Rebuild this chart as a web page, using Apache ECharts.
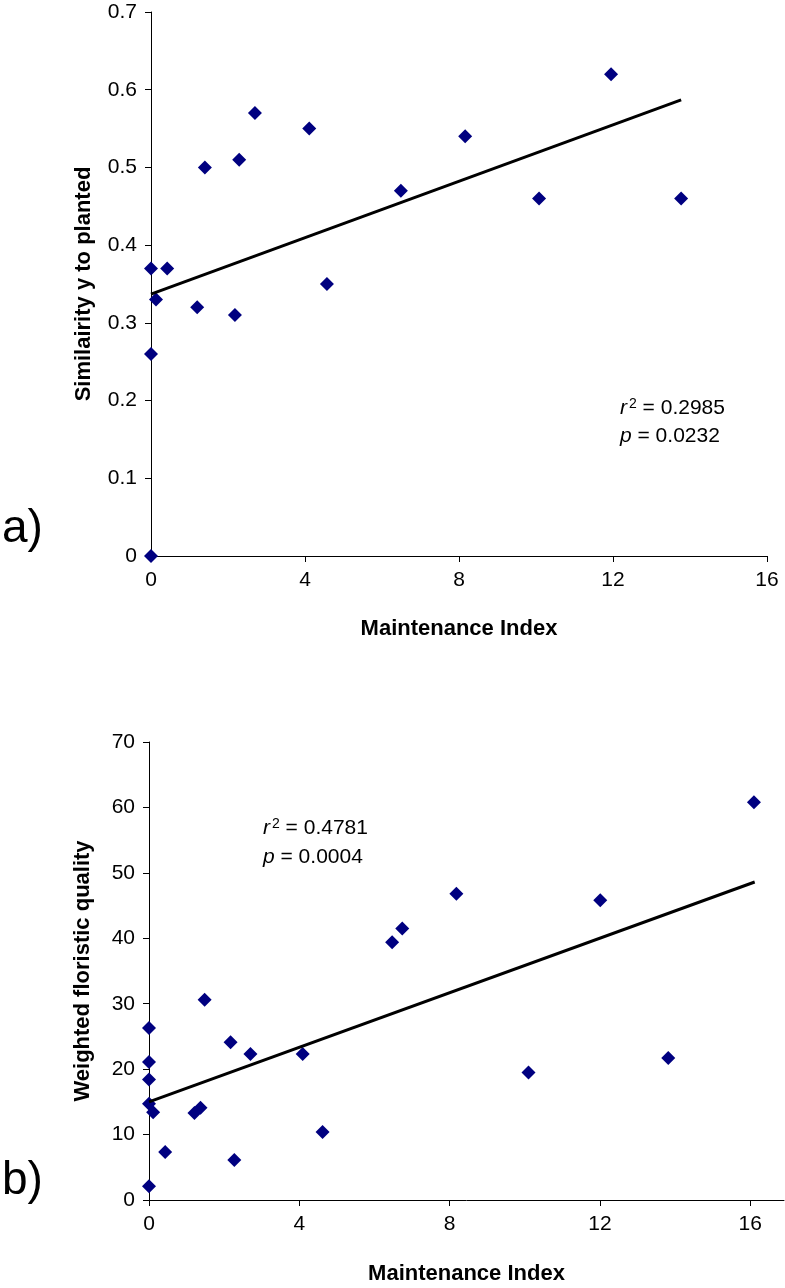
<!DOCTYPE html>
<html>
<head>
<meta charset="utf-8">
<script src="https://cdn.jsdelivr.net/npm/echarts@6/dist/echarts.min.js"></script>
<style>
html,body{margin:0;padding:0;background:#fff;}
#chart{width:785px;height:1288px;}
</style>
</head>
<body>
<div id="chart"></div>
<script>
// ---- Data ----
// a) Similarity to planted vs Maintenance Index
const simX = [0, 0.42, 0.13, 1.2, 2.18, 1.40, 2.29, 2.70, 4.11, 4.57, 6.49, 8.16, 10.08, 11.95, 13.77, 0, 0];
const simY = [0.37, 0.37, 0.33, 0.32, 0.31, 0.50, 0.51, 0.57, 0.55, 0.35, 0.47, 0.54, 0.46, 0.62, 0.46, 0.26, 0];
const trendAX = [0, 13.77];
const trendAY = [0.337, 0.587];

// b) Weighted floristic quality vs Maintenance Index
const fqX = [0, 0, 0, 0, 0.11, 0, 0.43, 1.21, 1.37, 1.48, 2.17, 2.27, 2.70, 4.09, 4.62, 6.47, 6.74, 8.18, 12.01, 16.10, 10.10, 13.82];
const fqY = [26.3, 21.1, 18.4, 14.7, 13.4, 2.1, 7.35, 13.3, 14.1, 30.6, 24.1, 6.1, 22.3, 22.3, 10.4, 39.4, 41.5, 46.8, 45.8, 60.8, 19.5, 21.7];
const trendBX = [0, 16.12];
const trendBY = [15.0, 48.6];

const xTicks = [0, 4, 8, 12, 16];
const statsA = { r2: '0.2985', p: '0.0232' };
const statsB = { r2: '0.4781', p: '0.0004' };
const panelLabels = ['a)', 'b)'];
const xTitle = 'Maintenance Index';
const yTitleA = 'Similairity y to planted';
const yTitleB = 'Weighted floristic quality';

const zip = (xs, ys) => xs.map((x, i) => [x, ys[i]]);

const FONT = '"Liberation Sans", Arial, sans-serif';
const axisLineStyle = { lineStyle: { color: '#000', width: 1 } };
const tickStyle = { show: true, inside: false, length: 6, lineStyle: { color: '#000', width: 1 } };
const labelStyle = { color: '#000', fontSize: 21, fontFamily: FONT };
const nameStyle = { color: '#000', fontSize: 22, fontWeight: 'bold', fontFamily: FONT };

const chart = echarts.init(document.getElementById('chart'), null, { renderer: 'canvas' });

const annot = (x, y, lead, val) => ({
  type: 'text', x: x, y: y,
  style: {
    text: lead + ' = ' + val,
    fontSize: 21, fontFamily: FONT, fill: '#000',
    verticalAlign: 'middle', align: 'left',
    rich: { i: { fontStyle: 'italic', fontSize: 21, fontFamily: FONT }, s: { fontSize: 14, fontFamily: FONT, verticalAlign: 'top', padding: [0, 0, 8, 2] } }
  }
});

chart.setOption({
  animation: false,
  backgroundColor: '#fff',
  grid: [
    { left: 151, top: 12, width: 616, height: 544, containLabel: false },
    { left: 149, top: 742, width: 635, height: 458, containLabel: false }
  ],
  xAxis: [
    {
      gridIndex: 0, type: 'value', min: 0, max: 16, interval: 4,
      axisLine: axisLineStyle, axisTick: tickStyle,
      axisLabel: Object.assign({ margin: 14 }, labelStyle),
      splitLine: { show: false },
      name: xTitle, nameLocation: 'middle', nameGap: 62, nameTextStyle: nameStyle
    },
    {
      gridIndex: 1, type: 'value', min: 0, max: 16.9,
      axisLine: axisLineStyle,
      axisTick: Object.assign({ customValues: xTicks }, tickStyle),
      axisLabel: Object.assign({ margin: 14, customValues: xTicks }, labelStyle),
      splitLine: { show: false },
      name: xTitle, nameLocation: 'middle', nameGap: 63, nameTextStyle: nameStyle
    }
  ],
  yAxis: [
    {
      gridIndex: 0, type: 'value', min: 0, max: 0.7, interval: 0.1,
      axisLine: Object.assign({ show: true }, axisLineStyle), axisTick: tickStyle,
      axisLabel: Object.assign({ margin: 14 }, labelStyle),
      splitLine: { show: false },
      name: yTitleA, nameLocation: 'middle', nameGap: 56, nameRotate: 90, nameTextStyle: nameStyle
    },
    {
      gridIndex: 1, type: 'value', min: 0, max: 70, interval: 10,
      axisLine: Object.assign({ show: true }, axisLineStyle), axisTick: tickStyle,
      axisLabel: Object.assign({ margin: 14 }, labelStyle),
      splitLine: { show: false },
      name: yTitleB, nameLocation: 'middle', nameGap: 55, nameRotate: 90, nameTextStyle: nameStyle
    }
  ],
  series: [
    {
      type: 'scatter', xAxisIndex: 0, yAxisIndex: 0,
      data: zip(simX, simY), symbol: 'diamond', symbolSize: 14,
      itemStyle: { color: '#000080', opacity: 1 }, clip: false
    },
    {
      type: 'line', xAxisIndex: 0, yAxisIndex: 0,
      data: zip(trendAX, trendAY), symbol: 'none',
      lineStyle: { color: '#000', width: 3 }
    },
    {
      type: 'scatter', xAxisIndex: 1, yAxisIndex: 1,
      data: zip(fqX, fqY), symbol: 'diamond', symbolSize: 14,
      itemStyle: { color: '#000080', opacity: 1 }, clip: false
    },
    {
      type: 'line', xAxisIndex: 1, yAxisIndex: 1,
      data: zip(trendBX, trendBY), symbol: 'none',
      lineStyle: { color: '#000', width: 3 }
    }
  ],
  graphic: [
    annot(620, 408, '{i|r}{s|2}', statsA.r2),
    annot(620, 436, '{i|p}', statsA.p),
    annot(263, 828, '{i|r}{s|2}', statsB.r2),
    annot(263, 857, '{i|p}', statsB.p),
    { type: 'text', x: 2, y: 529, style: { text: panelLabels[0], fontSize: 46, fontFamily: FONT, fill: '#000', verticalAlign: 'middle' } },
    { type: 'text', x: 2, y: 1181, style: { text: panelLabels[1], fontSize: 46, fontFamily: FONT, fill: '#000', verticalAlign: 'middle' } }
  ]
});
</script>
</body>
</html>
